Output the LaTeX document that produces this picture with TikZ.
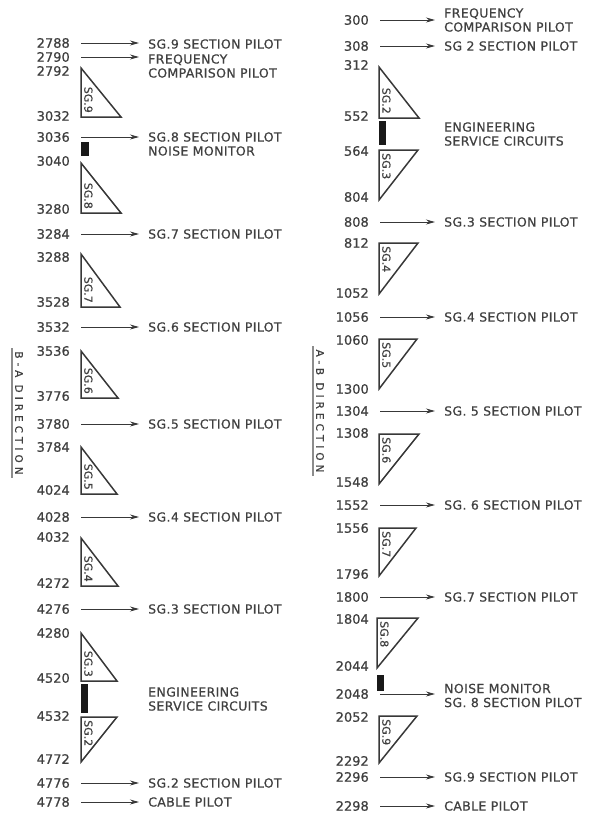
\documentclass[tikz,border=0pt]{standalone}
\usepackage{fontspec}
\usetikzlibrary{arrows.meta}
\newfontfamily\numfam[FakeBold=0.7]{DejaVu Sans}
\newfontfamily\labfam[LetterSpace=3,FakeBold=0.7]{DejaVu Sans}
\newfontfamily\sgfam[FakeBold=0.5]{DejaVu Sans}
\newfontfamily\dirfam[LetterSpace=38,FakeBold=0.6]{DejaVu Sans}
\definecolor{txt}{gray}{0.25}
\definecolor{ln}{gray}{0.22}
\newcommand\numfont{\numfam\fontsize{13}{15}\selectfont}
\newcommand\labfont{\labfam\fontsize{12.5}{14}\selectfont}
\newcommand\sgfont{\sgfam\fontsize{11}{12}\selectfont}
\newcommand\dirfont{\dirfam\fontsize{10.5}{12}\selectfont}
\tikzset{
  num/.style={anchor=east, inner sep=0pt, font=\numfont, text=txt},
  lab/.style={anchor=west, inner sep=0pt, font=\labfont, text=txt, align=left},
  arr/.style={draw=ln, line width=0.8pt, shorten <=11pt, shorten >=9pt, -{Stealth[length=9pt,width=5pt]}},
  tri/.style={draw=ln, line width=1.5pt, line join=miter},
  sg/.style={rotate=-90, inner sep=0pt, font=\sgfont, text=txt},
  blk/.style={fill=black!90},
  dir/.style={rotate=-90, font=\dirfont, text=txt, inner sep=3pt},
  dirln/.style={draw=black!45, line width=1.6pt},
}
% x, top, bottom, right x, label, name
\newcommand\triup[6]{\draw[tri] (#1,#2) -- (#1,#3) -- (#4,#3) -- cycle;
  \node[sg, anchor=south east] (#6) at (#1+3,#3-4) {#5};}
\newcommand\tridn[6]{\draw[tri] (#1,#2) -- (#4,#2) -- (#1,#3) -- cycle;
  \node[sg, anchor=south west] (#6) at (#1+3,#2+3) {#5};}
\begin{document}
\begin{tikzpicture}[x=1pt,y=-1pt]
\useasboundingbox (0,0) rectangle (590,815);
% ---------------- left column (B-A) ----------------
\node[num] (l2788) at (70,43) {2788};
\node[num] (l2790) at (70,57) {2790};
\node[num] (l2792) at (70,71) {2792};
\node[num] (l3032) at (70,116) {3032};
\node[num] (l3036) at (70,137) {3036};
\node[num] (l3040) at (70,161) {3040};
\node[num] (l3280) at (70,209) {3280};
\node[num] (l3284) at (70,234) {3284};
\node[num] (l3288) at (70,257) {3288};
\node[num] (l3528) at (70,302) {3528};
\node[num] (l3532) at (70,327) {3532};
\node[num] (l3536) at (70,351) {3536};
\node[num] (l3776) at (70,396) {3776};
\node[num] (l3780) at (70,424) {3780};
\node[num] (l3784) at (70,447) {3784};
\node[num] (l4024) at (70,490) {4024};
\node[num] (l4028) at (70,517) {4028};
\node[num] (l4032) at (70,537) {4032};
\node[num] (l4272) at (70,583) {4272};
\node[num] (l4276) at (70,609) {4276};
\node[num] (l4280) at (70,633) {4280};
\node[num] (l4520) at (70,678) {4520};
\node[num] (l4532) at (70,716) {4532};
\node[num] (l4772) at (70,759) {4772};
\node[num] (l4776) at (70,783) {4776};
\node[num] (l4778) at (70,802) {4778};

\node[lab] (a1) at (148,44) {SG.9 SECTION PILOT};
\node[lab] (a2) at (148,66) {FREQUENCY\\COMPARISON PILOT};
\node[lab] (a3) at (148,144) {SG.8 SECTION PILOT\\NOISE MONITOR};
\node[lab] (a4) at (148,234) {SG.7 SECTION PILOT};
\node[lab] (a5) at (148,327) {SG.6 SECTION PILOT};
\node[lab] (a6) at (148,424) {SG.5 SECTION PILOT};
\node[lab] (a7) at (148,517) {SG.4 SECTION PILOT};
\node[lab] (a8) at (148,609) {SG.3 SECTION PILOT};
\node[lab] (a9) at (148,699) {ENGINEERING\\SERVICE CIRCUITS};
\node[lab] (a10) at (148,783) {SG.2 SECTION PILOT};
\node[lab] (a11) at (148,802) {CABLE PILOT};

\draw[arr] (l2788.east) -- (l2788.east -| a1.west);
\draw[arr] (l2790.east) -- (l2790.east -| a2.west);
\draw[arr] (l3036.east) -- (l3036.east -| a3.west);
\draw[arr] (l3284.east) -- (l3284.east -| a4.west);
\draw[arr] (l3532.east) -- (l3532.east -| a5.west);
\draw[arr] (l3780.east) -- (l3780.east -| a6.west);
\draw[arr] (l4028.east) -- (l4028.east -| a7.west);
\draw[arr] (l4276.east) -- (l4276.east -| a8.west);
\draw[arr] (l4776.east) -- (l4776.east -| a10.west);
\draw[arr] (l4778.east) -- (l4778.east -| a11.west);

\triup{81}{68}{117}{121}{SG.9}{tl9}
\triup{81}{163}{213}{121}{SG.8}{tl8}
\triup{81}{254}{307}{120}{SG.7}{tl7}
\triup{81}{351}{398}{118}{SG.6}{tl6}
\triup{81}{447}{494}{117}{SG.5}{tl5}
\triup{81}{538}{586}{118}{SG.4}{tl4}
\triup{81}{633}{681}{117}{SG.3}{tl3}
\tridn{81}{717}{762}{117}{SG.2}{tl2}

\fill[blk] (81,142) rectangle (89,156);
\fill[blk] (81,684) rectangle (88,713);

\node[dir] (dBA) at (19,413) {B-A DIRECTION};
\draw[dirln] (dBA.south west) -- (dBA.south east);

% ---------------- right column (A-B) ----------------
\node[num] (r300) at (369,20) {300};
\node[num] (r308) at (369,46) {308};
\node[num] (r312) at (369,65) {312};
\node[num] (r552) at (369,116) {552};
\node[num] (r564) at (369,151) {564};
\node[num] (r804) at (369,197) {804};
\node[num] (r808) at (369,222) {808};
\node[num] (r812) at (369,243) {812};
\node[num] (r1052) at (369,293) {1052};
\node[num] (r1056) at (369,317) {1056};
\node[num] (r1060) at (369,340) {1060};
\node[num] (r1300) at (369,389) {1300};
\node[num] (r1304) at (369,411) {1304};
\node[num] (r1308) at (369,433) {1308};
\node[num] (r1548) at (369,482) {1548};
\node[num] (r1552) at (369,505) {1552};
\node[num] (r1556) at (369,528) {1556};
\node[num] (r1796) at (369,574) {1796};
\node[num] (r1800) at (369,597) {1800};
\node[num] (r1804) at (369,619) {1804};
\node[num] (r2044) at (369,666) {2044};
\node[num] (r2048) at (369,694) {2048};
\node[num] (r2052) at (369,717) {2052};
\node[num] (r2292) at (369,761) {2292};
\node[num] (r2296) at (369,777) {2296};
\node[num] (r2298) at (369,806) {2298};

\node[lab] (b1) at (444,20) {FREQUENCY\\COMPARISON PILOT};
\node[lab] (b2) at (444,46) {SG 2 SECTION PILOT};
\node[lab] (b3) at (444,134) {ENGINEERING\\SERVICE CIRCUITS};
\node[lab] (b4) at (444,222) {SG.3 SECTION PILOT};
\node[lab] (b5) at (444,317) {SG.4 SECTION PILOT};
\node[lab] (b6) at (444,411) {SG. 5 SECTION PILOT};
\node[lab] (b7) at (444,505) {SG. 6 SECTION PILOT};
\node[lab] (b8) at (444,597) {SG.7 SECTION PILOT};
\node[lab] (b9) at (444,695.5) {NOISE MONITOR\\SG. 8 SECTION PILOT};
\node[lab] (b10) at (444,777) {SG.9 SECTION PILOT};
\node[lab] (b11) at (444,806) {CABLE PILOT};

\draw[arr] (r300.east) -- (r300.east -| b1.west);
\draw[arr] (r308.east) -- (r308.east -| b2.west);
\draw[arr] (r808.east) -- (r808.east -| b4.west);
\draw[arr] (r1056.east) -- (r1056.east -| b5.west);
\draw[arr] (r1304.east) -- (r1304.east -| b6.west);
\draw[arr] (r1552.east) -- (r1552.east -| b7.west);
\draw[arr] (r1800.east) -- (r1800.east -| b8.west);
\draw[arr] (r2048.east) -- (r2048.east -| b9.west);
\draw[arr] (r2296.east) -- (r2296.east -| b10.west);
\draw[arr] (r2298.east) -- (r2298.east -| b11.west);

\triup{379}{67}{118}{419}{SG.2}{tr2}
\tridn{379}{150}{200}{418}{SG.3}{tr3}
\tridn{379}{243}{294}{418}{SG.4}{tr4}
\tridn{379}{339}{389}{417}{SG.5}{tr5}
\tridn{379}{434}{484}{419}{SG.6}{tr6}
\tridn{379}{528}{576}{416}{SG.7}{tr7}
\tridn{377}{618}{668}{418}{SG.8}{tr8}
\tridn{379}{716}{763}{417}{SG.9}{tr9}

\fill[blk] (379,121) rectangle (386,145);
\fill[blk] (377,675) rectangle (384,691);

\node[dir] (dAB) at (320,411) {A-B DIRECTION};
\draw[dirln] (dAB.south west) -- (dAB.south east);
\end{tikzpicture}
\end{document}
